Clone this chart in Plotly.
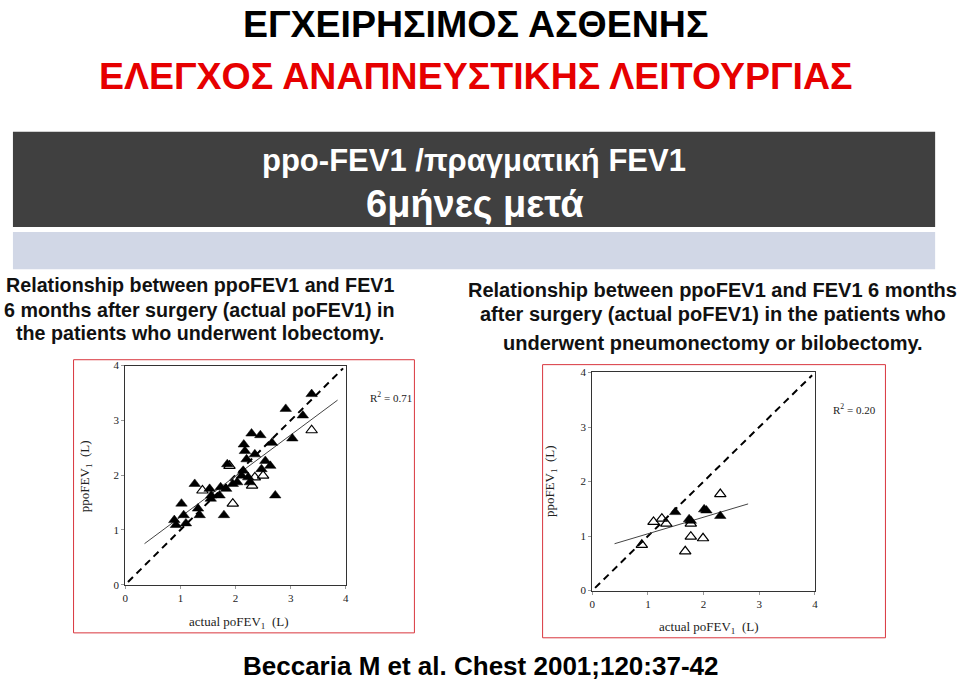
import plotly.graph_objects as go

W, H = 960, 688

# ---------------- data ----------------
# Left panel: lobectomy
lob_filled_x = [0.89, 0.92, 1.02, 1.06, 1.10, 1.26, 1.32, 1.35, 1.53, 1.56, 1.55, 1.73, 1.71, 1.79,
                1.83, 1.85, 1.95, 2.03, 2.11, 2.14, 2.15, 2.17, 2.20, 2.23, 2.26, 2.29, 2.35, 2.45,
                2.47, 2.54, 2.63, 2.66, 2.72, 2.91, 3.03, 3.22, 3.38]
lob_filled_y = [1.18, 1.09, 1.48, 1.27, 1.12, 1.84, 1.39, 1.27, 1.75, 1.63, 1.57, 1.78, 1.63, 1.27,
                1.75, 2.20, 1.84, 1.87, 1.99, 2.08, 2.56, 2.44, 2.29, 1.96, 1.87, 2.76, 2.38, 2.73,
                2.11, 2.26, 2.17, 2.59, 1.63, 3.21, 2.67, 3.09, 3.48]
lob_open_x = [1.40, 1.89, 1.95, 2.30, 2.35, 2.50, 3.38]
lob_open_y = [1.72, 2.17, 1.48, 1.81, 1.96, 1.99, 2.82]
lob_fit_x = [0.35, 3.85]
lob_fit_y = [0.75, 3.37]

# Right panel: pneumonectomy / bilobectomy
pn_open_x = [0.89, 1.10, 1.25, 1.33, 1.67, 1.77, 1.77, 1.99, 2.30]
pn_open_y = [0.84, 1.26, 1.32, 1.23, 0.72, 0.99, 1.23, 0.96, 1.77]
pn_filled_x = [1.49, 1.74, 1.77, 2.01, 2.05, 2.30]
pn_filled_y = [1.44, 1.31, 1.28, 1.49, 1.47, 1.37]
pn_fit_x = [0.40, 2.80]
pn_fit_y = [0.86, 1.59]

identity = [0.05, 3.95]
ticks = [0, 1, 2, 3, 4]
r2_labels = ["R<sup>2</sup> = 0.71", "R<sup>2</sup> = 0.20"]

# ---------------- helpers ----------------
def px(x):
    return x / W

def py(y):
    return 1 - y / H

fig = go.Figure()

serif = "Liberation Serif, Times New Roman, serif"

def add_panel(xa, ya, filled_x, filled_y, open_x, open_y, fit_x, fit_y):
    fig.add_trace(go.Scatter(x=identity, y=identity, mode="lines",
                             line=dict(color="black", width=2, dash="7px,5px"),
                             xaxis=xa, yaxis=ya, showlegend=False, hoverinfo="skip"))
    fig.add_trace(go.Scatter(x=fit_x, y=fit_y, mode="lines",
                             line=dict(color="#444", width=1),
                             xaxis=xa, yaxis=ya, showlegend=False, hoverinfo="skip"))
    fig.add_trace(go.Scatter(x=filled_x, y=filled_y, mode="markers",
                             marker=dict(symbol="triangle-up", size=10, color="black",
                                         line=dict(color="black", width=0.5)),
                             xaxis=xa, yaxis=ya, showlegend=False))
    fig.add_trace(go.Scatter(x=open_x, y=open_y, mode="markers",
                             marker=dict(symbol="triangle-up-open", size=10, color="black",
                                         line=dict(width=1.2)),
                             xaxis=xa, yaxis=ya, showlegend=False))

add_panel("x", "y", lob_filled_x, lob_filled_y, lob_open_x, lob_open_y, lob_fit_x, lob_fit_y)
add_panel("x2", "y2", pn_filled_x, pn_filled_y, pn_open_x, pn_open_y, pn_fit_x, pn_fit_y)

axis_common = dict(range=[0, 4], tickvals=ticks, showgrid=False, zeroline=False,
                   showline=True, linecolor="#333", linewidth=1, mirror=True,
                   ticks="outside", ticklen=3, tickcolor="#999",
                   tickfont=dict(family=serif, size=11, color="#222"), fixedrange=True)

fig.update_layout(
    width=W, height=H, margin=dict(l=0, r=0, t=0, b=0),
    paper_bgcolor="white", plot_bgcolor="white", showlegend=False,
    xaxis=dict(domain=[px(123), px(345)], anchor="y", **axis_common),
    yaxis=dict(domain=[py(589), py(366)], anchor="x", **axis_common),
    xaxis2=dict(domain=[px(593), px(817)], anchor="y2", **axis_common),
    yaxis2=dict(domain=[py(595), py(373)], anchor="x2", **axis_common),
)

shapes = [
    # dark header band
    dict(type="rect", xref="paper", yref="paper", x0=px(10), x1=px(938), y0=py(225), y1=py(128),
         fillcolor="#404040", line=dict(width=0), layer="below"),
    # light band
    dict(type="rect", xref="paper", yref="paper", x0=px(10), x1=px(938), y0=py(268), y1=py(230),
         fillcolor="#D1D7E6", line=dict(width=0), layer="below"),
    # red frames around the two chart images
    dict(type="rect", xref="paper", yref="paper", x0=px(71), x1=px(414), y0=py(638), y1=py(360),
         fillcolor="rgba(0,0,0,0)", line=dict(color="#D9363E", width=1)),
    dict(type="rect", xref="paper", yref="paper", x0=px(543), x1=px(888), y0=py(643), y1=py(365),
         fillcolor="rgba(0,0,0,0)", line=dict(color="#D9363E", width=1)),
]
fig.update_layout(shapes=shapes)

sans = "Liberation Sans, Arial, sans-serif"

def ann(text, x, y, size, color="black", family=sans, angle=0, xanchor="center"):
    fig.add_annotation(text=text, x=px(x), y=py(y), xref="paper", yref="paper",
                       showarrow=False, xanchor=xanchor, yanchor="middle",
                       textangle=angle, font=dict(family=family, size=size, color=color))

# titles
ann("<b>ΕΓΧΕΙΡΗΣΙΜΟΣ ΑΣΘΕΝΗΣ</b>", 475, 18, 37.5, "black")
ann("<b>ΕΛΕΓΧΟΣ ΑΝΑΠΝΕΥΣΤΙΚΗΣ ΛΕΙΤΟΥΡΓΙΑΣ</b>", 476, 71, 37.5, "#E60000")
ann("<b>ppo-FEV1 /πραγματική FEV1</b>", 474, 157, 31, "white")
ann("<b>6μήνες μετά</b>", 475, 202, 38, "white")

# captions
cap_l = ["Relationship between ppoFEV1 and FEV1",
         "6 months after surgery (actual poFEV1) in",
         "the patients who underwent lobectomy."]
for t, yy in zip(cap_l, [284, 309, 333]):
    ann("<b>" + t + "</b>", 198, yy, 19.7, "#111")
cap_r = ["Relationship between ppoFEV1 and FEV1 6 months",
         "after surgery (actual poFEV1) in the patients who",
         "underwent pneumonectomy or bilobectomy."]
for t, yy in zip(cap_r, [289, 313, 343]):
    ann("<b>" + t + "</b>", 714, yy, 20, "#111")

# axis titles & R2
ann("ppoFEV<sub>1</sub>  (L)", 83, 478, 13, "#222", serif, angle=-90)
ann("actual poFEV<sub>1</sub>  (L)", 237, 627, 13, "#222", serif)
ann(r2_labels[0], 390, 398, 11, "#222", serif)
ann("ppoFEV<sub>1</sub>  (L)", 551, 484, 13, "#222", serif, angle=-90)
ann("actual poFEV<sub>1</sub>  (L)", 710, 633, 13, "#222", serif)
ann(r2_labels[1], 857, 410, 11, "#222", serif)

# citation
ann("<b>Beccaria M et al. Chest 2001;120:37-42</b>", 481, 672, 26, "black")

fig.write_html("out.html")
